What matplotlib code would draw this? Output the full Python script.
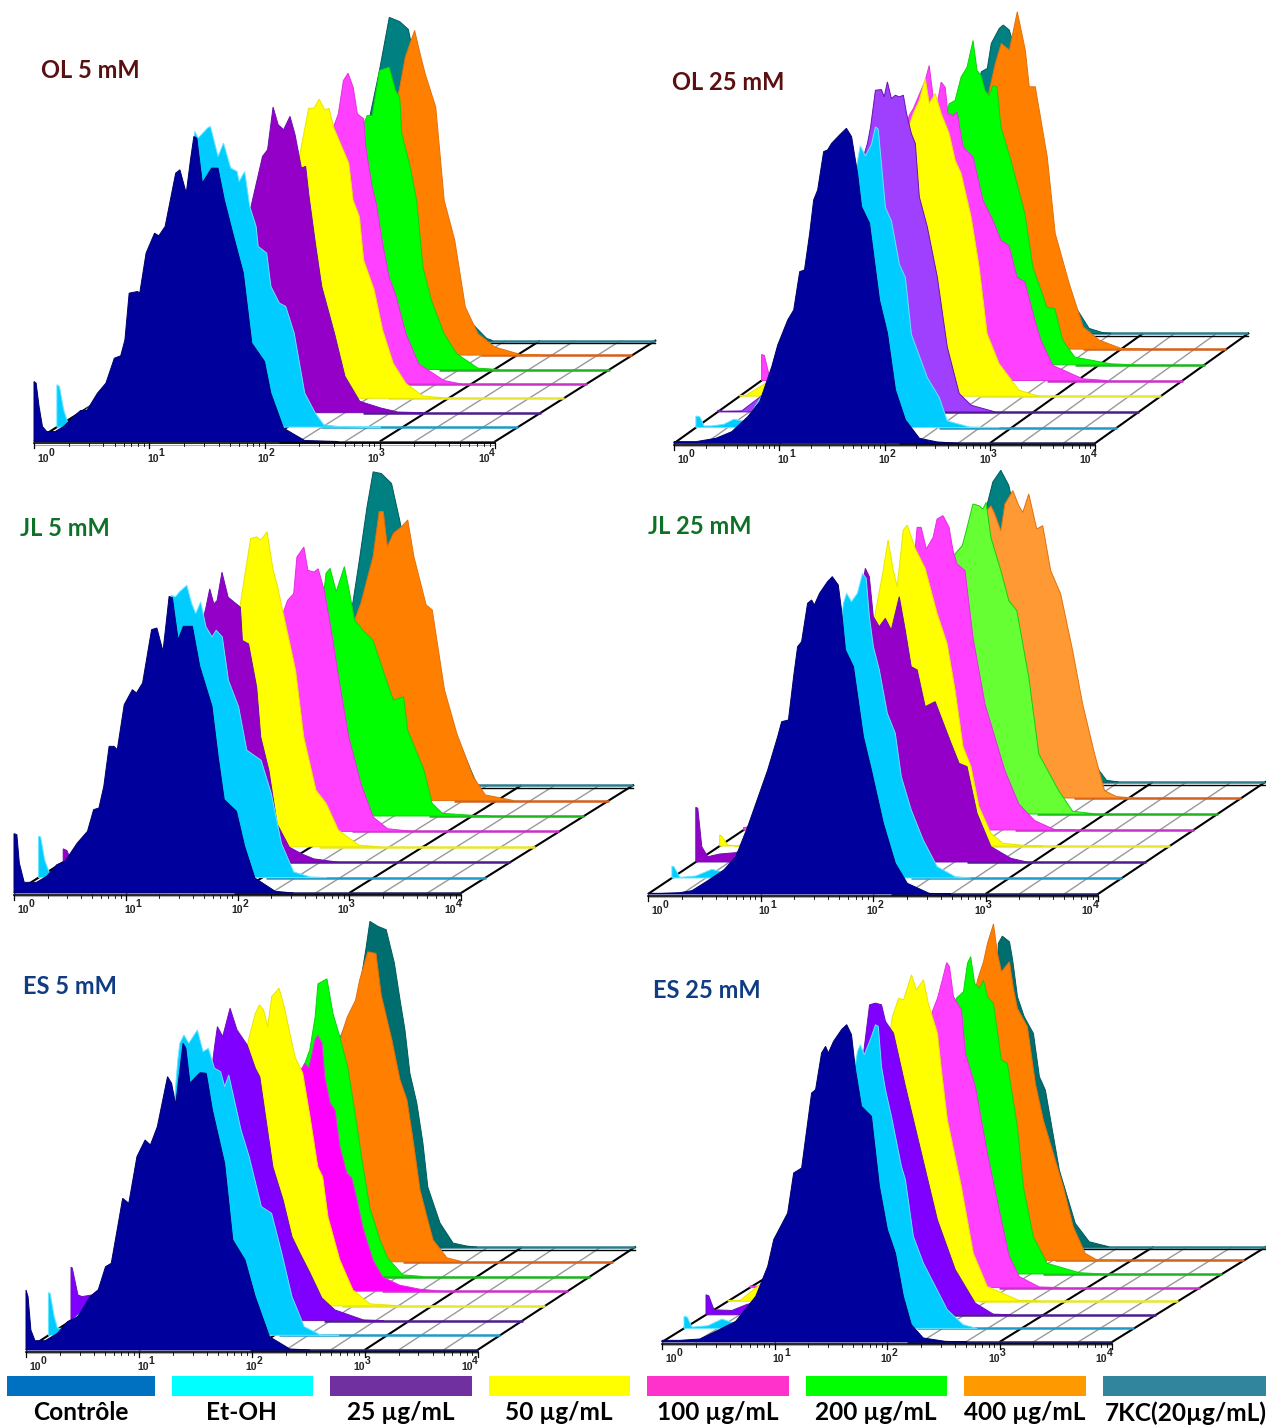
#!/usr/bin/env python3
"""Six stacked flow cytometry overlays (OL, JL, ES at 5 and 25 mM) with a colour key."""

import matplotlib
matplotlib.use("Agg")
import matplotlib.pyplot as plt
import numpy as np

SERIES = ["Contrôle", "Et-OH", "25 µg/mL", "50 µg/mL", "100 µg/mL",
          "200 µg/mL", "400 µg/mL", "7KC(20µg/mL)"]
KEY_COLORS = ["#0070C0", "#00FFFF", "#7030A0", "#FFFF00", "#FF33CC",
              "#00FF00", "#FF9900", "#31859C"]

# histograms: channel from the left of the axis, counts above the baseline
OL5_CH = [
    [0, 5, 12, 20, 30, 50, 70, 90, 110, 125, 150, 170, 190, 205, 215, 225, 245, 250, 265, 285, 295, 310, 335, 345, 360, 370, 378, 385, 398, 410, 420, 435, 450, 470, 495, 515, 545, 560, 590, 640, 720],
    [0, 6, 16, 26, 36, 166, 306, 326, 334, 356, 363, 381, 394, 411, 426, 431, 444, 456, 471, 476, 496, 506, 526, 541, 561, 586, 611, 631, 666, 766],
    [0, 212, 392, 404, 432, 444, 457, 469, 482, 497, 509, 524, 534, 542, 557, 572, 602, 627, 662, 712, 752, 812],
    [0, 257, 457, 465, 487, 499, 512, 525, 535, 547, 582, 592, 607, 617, 642, 662, 687, 717, 757, 817],
    [0, 253, 483, 493, 503, 515, 526, 538, 548, 563, 568, 583, 593, 608, 623, 638, 663, 693, 753, 793],
    [0, 249, 504, 509, 517, 529, 546, 569, 584, 594, 599, 619, 634, 649, 669, 699, 729, 779, 829],
    [0, 295, 535, 540, 553, 575, 590, 600, 625, 645, 670, 695, 725, 765, 825, 875],
    [0, 341, 438, 461, 486, 506, 513, 541, 641, 691, 706],
]
OL5_COUNT = [
    [180, 175, 105, 45, 30, 30, 45, 70, 93, 93, 145, 175, 250, 257, 305, 445, 450, 445, 565, 625, 617, 645, 805, 815, 745, 845, 915, 910, 775, 800, 820, 820, 725, 625, 505, 295, 240, 145, 40, 3, 0],
    [127, 122, 52, 12, 7, 182, 682, 887, 867, 897, 902, 812, 852, 777, 767, 737, 767, 662, 602, 542, 522, 422, 372, 362, 282, 102, 42, 7, 2, 0],
    [0, 139, 539, 614, 769, 789, 917, 864, 849, 889, 834, 734, 739, 649, 509, 379, 239, 109, 34, 14, 2, 0],
    [0, 195, 675, 725, 870, 870, 897, 865, 870, 810, 705, 595, 545, 415, 325, 205, 105, 45, 7, 0],
    [0, 200, 730, 775, 810, 910, 932, 890, 810, 795, 710, 590, 540, 420, 320, 270, 150, 60, 10, 0],
    [0, 157, 687, 737, 762, 762, 897, 907, 837, 817, 707, 607, 507, 307, 207, 107, 47, 4, 0],
    [0, 264, 774, 804, 894, 974, 894, 844, 744, 464, 344, 144, 64, 24, 2, 0],
    [0, 222, 812, 970, 957, 934, 892, 422, 72, 7, 0],
]

OL25_CH = [
    [0, 55, 105, 145, 185, 215, 245, 260, 285, 300, 315, 327, 340, 350, 360, 375, 385, 395, 415, 432, 445, 460, 470, 490, 515, 535, 555, 580, 615, 660, 715],
    [0, 10, 20, 40, 70, 95, 125, 260, 395, 405, 412, 425, 440, 450, 457, 465, 475, 490, 510, 525, 540, 580, 610, 630, 685, 760],
    [0, 15, 60, 205, 375, 383, 395, 410, 417, 425, 435, 445, 455, 465, 473, 485, 495, 505, 525, 550, 575, 605, 635, 695],
    [0, 15, 200, 415, 425, 435, 450, 465, 475, 490, 505, 525, 540, 555, 580, 600, 620, 650, 700, 750],
    [0, 7, 20, 40, 195, 355, 370, 380, 410, 420, 430, 440, 450, 460, 467, 480, 490, 505, 530, 555, 580, 600, 620, 640, 660, 685, 700, 730, 805, 865],
    [0, 190, 410, 415, 430, 445, 460, 475, 485, 495, 505, 515, 525, 535, 545, 570, 605, 625, 660, 680, 700, 730, 820, 880],
    [0, 236, 456, 461, 476, 491, 511, 531, 551, 561, 576, 606, 626, 661, 696, 736, 791, 846],
    [0, 181, 381, 386, 401, 411, 431, 441, 456, 466, 511, 611, 656, 691, 711],
]
OL25_COUNT = [
    [5, 5, 15, 35, 80, 125, 230, 295, 370, 400, 515, 520, 630, 730, 760, 875, 880, 900, 925, 945, 920, 810, 710, 660, 430, 330, 160, 70, 15, 4, 0],
    [35, 32, 5, 5, 10, 25, 18, 280, 730, 800, 845, 815, 850, 902, 895, 790, 660, 620, 490, 450, 280, 150, 90, 20, 2, 0],
    [5, 2, 3, 135, 805, 855, 965, 967, 945, 990, 940, 950, 945, 950, 895, 835, 805, 645, 555, 405, 195, 55, 20, 0],
    [3, 2, 138, 768, 813, 848, 888, 953, 878, 908, 848, 788, 708, 668, 538, 388, 188, 98, 18, 0],
    [78, 75, 10, 2, 140, 720, 795, 815, 900, 945, 850, 830, 895, 880, 800, 795, 805, 700, 670, 540, 480, 420, 405, 310, 295, 180, 120, 45, 5, 0],
    [0, 143, 753, 783, 793, 863, 893, 973, 883, 868, 823, 808, 838, 833, 713, 613, 453, 293, 173, 168, 73, 23, 3, 0],
    [0, 247, 747, 777, 857, 917, 897, 1012, 897, 787, 787, 577, 347, 197, 67, 27, 2, 0],
    [0, 300, 760, 785, 795, 870, 915, 925, 910, 870, 500, 100, 15, 2, 0],
]

JL5_CH = [
    [0, 7, 13, 25, 55, 80, 105, 125, 155, 180, 195, 208, 220, 233, 245, 253, 270, 290, 300, 315, 337, 350, 365, 380, 388, 402, 415, 437, 455, 485, 500, 515, 545, 565, 590, 640, 685],
    [0, 5, 15, 27, 45, 255, 315, 325, 335, 345, 363, 375, 385, 397, 410, 425, 435, 450, 465, 490, 510, 545, 570, 595, 625, 665, 705],
    [0, 9, 19, 35, 244, 339, 349, 359, 369, 377, 389, 404, 429, 434, 439, 454, 474, 484, 504, 524, 554, 584, 614, 674],
    [0, 184, 369, 374, 384, 399, 414, 424, 439, 454, 464, 479, 509, 529, 559, 584, 614, 664, 714],
    [0, 224, 414, 419, 429, 444, 452, 469, 479, 494, 504, 519, 539, 554, 579, 609, 639, 674, 734],
    [0, 213, 453, 463, 473, 488, 508, 518, 533, 553, 578, 608, 628, 653, 663, 703, 723, 748, 823, 863],
    [0, 253, 473, 488, 518, 533, 543, 553, 568, 588, 603, 618, 648, 663, 693, 723, 763, 793, 863],
    [0, 243, 408, 423, 443, 458, 478, 503, 523, 563, 663, 713],
]
JL5_COUNT = [
    [178, 175, 90, 32, 32, 50, 85, 95, 150, 185, 250, 255, 320, 440, 440, 430, 565, 610, 600, 630, 790, 795, 725, 890, 885, 760, 800, 800, 680, 560, 410, 280, 245, 140, 45, 5, 0],
    [124, 122, 52, 12, 7, 322, 722, 847, 842, 857, 877, 822, 792, 827, 752, 722, 742, 722, 592, 512, 382, 352, 252, 102, 17, 2, 0],
    [40, 35, 5, 2, 175, 715, 760, 820, 775, 785, 870, 795, 770, 765, 665, 655, 525, 375, 275, 115, 45, 25, 10, 0],
    [0, 130, 700, 730, 810, 925, 930, 920, 945, 830, 785, 700, 530, 330, 170, 130, 50, 5, 0],
    [0, 133, 633, 658, 693, 713, 823, 853, 783, 778, 788, 723, 583, 463, 283, 143, 43, 8, 0],
    [0, 138, 618, 728, 743, 673, 748, 688, 588, 558, 528, 418, 348, 358, 258, 138, 38, 8, 2, 0],
    [0, 192, 542, 592, 732, 867, 867, 762, 802, 822, 842, 732, 587, 572, 332, 202, 72, 17, 0],
    [0, 245, 545, 665, 835, 940, 935, 905, 795, 545, 145, 0],
]

JL25_CH = [
    [0, 30, 80, 110, 150, 190, 220, 250, 275, 300, 325, 335, 352, 365, 375, 385, 400, 410, 417, 430, 450, 462, 477, 485, 495, 515, 540, 560, 590, 620, 650, 705, 760],
    [0, 5, 20, 60, 100, 125, 320, 425, 430, 438, 450, 465, 478, 487, 495, 505, 520, 540, 560, 575, 600, 630, 665, 710, 750],
    [0, 5, 15, 30, 60, 100, 120, 260, 410, 425, 435, 445, 460, 475, 490, 510, 525, 540, 555, 575, 600, 640, 660, 680, 705, 740, 790, 830],
    [0, 5, 20, 45, 200, 385, 390, 410, 422, 435, 445, 460, 470, 490, 515, 545, 570, 590, 610, 630, 650, 680, 710, 770, 810],
    [0, 15, 240, 425, 430, 435, 445, 458, 475, 485, 500, 515, 525, 535, 555, 575, 605, 655, 690, 730, 780, 830],
    [0, 230, 465, 470, 488, 495, 515, 530, 540, 548, 560, 585, 605, 625, 655, 680, 730, 765, 825],
    [0, 270, 485, 490, 500, 510, 525, 535, 555, 570, 580, 595, 615, 630, 650, 675, 705, 730, 760, 785, 815, 860],
    [0, 210, 425, 445, 465, 485, 495, 560, 680, 730, 760],
]
JL25_COUNT = [
    [2, 2, 4, 10, 40, 72, 112, 202, 287, 372, 472, 517, 522, 652, 742, 757, 872, 882, 867, 902, 937, 952, 927, 852, 732, 682, 472, 372, 212, 92, 32, 2, 0],
    [36, 34, 2, 6, 26, 19, 224, 774, 824, 854, 829, 854, 914, 899, 784, 694, 624, 494, 434, 304, 204, 114, 34, 4, 0],
    [164, 161, 46, 16, 24, 28, 36, 176, 776, 881, 856, 736, 706, 731, 696, 796, 696, 586, 576, 466, 481, 356, 296, 286, 146, 46, 11, 0],
    [33, 30, 3, 0, 78, 658, 698, 828, 918, 828, 778, 948, 963, 893, 833, 698, 608, 468, 298, 238, 118, 38, 8, 1, 0],
    [8, 6, 128, 818, 843, 908, 908, 843, 878, 933, 943, 908, 838, 798, 778, 578, 378, 178, 78, 28, 1, 0],
    [0, 130, 750, 780, 805, 835, 930, 925, 915, 935, 830, 730, 640, 610, 410, 180, 70, 8, 0],
    [0, 182, 802, 862, 877, 852, 802, 882, 922, 877, 857, 912, 807, 817, 682, 612, 442, 282, 132, 22, 4, 0],
    [0, 235, 805, 900, 935, 890, 835, 535, 85, 5, 0],
]

ES5_CH = [
    [0, 5, 12, 22, 47, 77, 102, 127, 157, 177, 195, 209, 222, 237, 252, 272, 292, 305, 322, 347, 357, 367, 385, 392, 402, 417, 427, 442, 457, 487, 507, 537, 562, 597, 647, 697],
    [0, 4, 14, 22, 37, 282, 317, 322, 332, 344, 365, 379, 392, 407, 422, 432, 442, 452, 472, 492, 522, 547, 572, 597, 627, 667, 712],
    [0, 3, 17, 27, 52, 62, 227, 347, 352, 359, 372, 390, 407, 432, 452, 463, 495, 520, 542, 561, 586, 615, 647, 717, 767],
    [0, 222, 377, 382, 397, 407, 417, 427, 437, 455, 467, 494, 513, 531, 550, 562, 575, 604, 636, 678, 757],
    [0, 5, 20, 217, 407, 417, 426, 444, 456, 463, 473, 488, 495, 505, 512, 525, 537, 549, 566, 578, 591, 605, 630, 654, 696, 745, 800],
    [0, 212, 408, 420, 433, 440, 462, 477, 494, 513, 531, 548, 567, 592, 611, 648, 697],
    [0, 257, 437, 442, 457, 477, 487, 507, 527, 540, 566, 586, 603, 618, 635, 652, 667, 701, 740],
    [0, 252, 427, 447, 457, 477, 497, 517, 531, 543, 555, 572, 587, 599, 629, 661, 695, 720],
]
ES5_COUNT = [
    [180, 160, 60, 28, 28, 50, 85, 100, 160, 180, 250, 260, 350, 455, 440, 580, 630, 615, 670, 820, 800, 735, 920, 905, 800, 820, 832, 830, 720, 560, 330, 270, 160, 40, 3, 0],
    [128, 126, 56, 21, 21, 296, 826, 876, 901, 876, 916, 851, 861, 801, 791, 746, 781, 726, 616, 536, 386, 366, 246, 116, 26, 1, 0],
    [160, 158, 77, 72, 77, 87, 252, 772, 822, 882, 852, 937, 872, 827, 757, 731, 461, 362, 251, 203, 143, 68, 32, 2, 0],
    [0, 208, 778, 808, 878, 903, 888, 838, 928, 953, 900, 747, 699, 567, 417, 387, 267, 138, 48, 6, 0],
    [142, 130, 60, 212, 762, 822, 732, 663, 669, 684, 669, 753, 768, 744, 642, 564, 543, 432, 354, 339, 273, 192, 93, 42, 18, 6, 0],
    [0, 168, 640, 680, 778, 878, 893, 788, 718, 628, 490, 350, 208, 110, 55, 5, 0],
    [0, 275, 645, 680, 735, 785, 845, 930, 925, 800, 666, 546, 486, 366, 216, 135, 66, 12, 0],
    [0, 282, 742, 892, 977, 962, 952, 852, 741, 651, 522, 432, 312, 180, 72, 12, 3, 0],
]

ES25_CH = [
    [0, 45, 95, 135, 185, 235, 265, 280, 315, 330, 350, 365, 375, 385, 400, 410, 417, 430, 450, 463, 475, 485, 500, 525, 545, 565, 585, 605, 625, 655, 710, 765],
    [0, 8, 20, 60, 95, 125, 290, 430, 435, 442, 452, 470, 480, 487, 495, 505, 520, 545, 555, 575, 600, 630, 660, 700, 735],
    [0, 7, 20, 65, 100, 120, 235, 390, 395, 410, 425, 440, 450, 470, 485, 500, 540, 580, 625, 675, 720, 765],
    [0, 30, 230, 408, 412, 428, 440, 460, 472, 490, 502, 525, 535, 550, 585, 615, 650, 730, 780],
    [0, 25, 225, 450, 457, 470, 480, 493, 500, 510, 530, 540, 565, 595, 630, 650, 675, 725, 775],
    [0, 220, 458, 462, 480, 490, 498, 508, 520, 530, 540, 555, 575, 590, 615, 630, 655, 690, 770, 830],
    [0, 265, 455, 460, 475, 485, 500, 510, 520, 540, 550, 560, 585, 605, 625, 650, 675, 700, 730, 760, 805],
    [0, 260, 455, 457, 467, 485, 493, 505, 522, 545, 560, 575, 610, 650, 685, 735],
]
ES25_COUNT = [
    [5, 5, 9, 32, 62, 137, 227, 307, 387, 507, 522, 657, 747, 757, 867, 887, 867, 902, 937, 952, 922, 817, 707, 677, 467, 337, 267, 137, 52, 12, 2, 0],
    [36, 34, 4, 8, 28, 16, 226, 796, 831, 851, 821, 876, 911, 906, 786, 716, 636, 486, 446, 276, 196, 126, 56, 11, 0],
    [60, 57, 15, 13, 30, 37, 185, 755, 785, 930, 935, 930, 880, 845, 765, 685, 485, 285, 135, 35, 2, 0],
    [3, 2, 194, 824, 854, 909, 904, 979, 934, 964, 894, 804, 694, 544, 344, 144, 44, 2, 0],
    [5, 4, 153, 793, 828, 868, 913, 975, 963, 873, 833, 703, 603, 403, 203, 93, 33, 2, 0],
    [0, 162, 802, 827, 847, 932, 952, 872, 857, 882, 832, 812, 642, 632, 442, 262, 112, 32, 4, 0],
    [0, 271, 811, 841, 896, 951, 1009, 921, 866, 896, 816, 756, 701, 531, 421, 321, 221, 101, 21, 1, 0],
    [0, 280, 850, 910, 932, 915, 860, 750, 690, 640, 510, 470, 230, 70, 15, 0],
]

NAVY, CYAN, YEL = "#00009C", "#00CCFF", "#FFFF00"
PANELS = [
    dict(title="OL 5 mM", title_xy=(41, 70), title_color="#5A1010", ch=OL5_CH, count=OL5_COUNT,
         x0=34, y0=441.5, x1=495, dx=22.9, dy=14.4, full=1090,
         fills=[NAVY, CYAN, "#9400C8", YEL, "#FF40FF", "#00FF00", "#FF8000", "#008080"]),
    dict(title="OL 25 mM", title_xy=(672, 82), title_color="#5A1010", ch=OL25_CH, count=OL25_COUNT,
         x0=674, y0=443.3, x1=1095, dx=21.9, dy=15.7, full=1055,
         fills=[NAVY, CYAN, "#A040FF", YEL, "#FF40FF", "#00FF00", "#FF8000", "#008080"]),
    dict(title="JL 5 mM", title_xy=(20, 529), title_color="#0F7028", ch=JL5_CH, count=JL5_COUNT,
         x0=14, y0=893, x1=461, dx=24.6, dy=15.4, full=1095,
         fills=[NAVY, CYAN, "#9400C8", YEL, "#FF40FF", "#00FF00", "#FF8000", "#008080"]),
    dict(title="JL 25 mM", title_xy=(648, 527), title_color="#0F7028", ch=JL25_CH, count=JL25_COUNT,
         x0=648, y0=894, x1=1098, dx=23.9, dy=16, full=1128,
         fills=[NAVY, CYAN, "#9400C8", YEL, "#FF40FF", "#66FF33", "#FF9933", "#008080"]),
    dict(title="ES 5 mM", title_xy=(23, 986), title_color="#0F3C82", ch=ES5_CH, count=ES5_COUNT,
         x0=26, y0=1350, x1=477.5, dx=22.5, dy=14.7, full=1107,
         fills=[NAVY, CYAN, "#8000FF", YEL, "#FF00FF", "#00FF00", "#FF8000", "#006E6E"]),
    dict(title="ES 25 mM", title_xy=(653, 991), title_color="#0F3C82", ch=ES25_CH, count=ES25_COUNT,
         x0=662, y0=1342, x1=1112, dx=22, dy=13.6, full=1128,
         fills=[NAVY, CYAN, "#8000FF", YEL, "#FF40FF", "#00FF00", "#FF8000", "#006E6E"]),
]
BASE_COLORS = ["#20205C", "#1E9BC8", "#4B1E8C", "#E6E632", "#C832C8", "#1EB41E", "#D2601E", "#2E7D8C"]
EDGE_COLORS = ["#000070", "#66E6FF", "#6A10B0", "#E6E600", "#E030E0", "#10D010", "#E07010", "#005A5A"]
KEY_SPANS = [(7, 155), (172, 313), (330, 472), (489, 630), (647, 789), (806, 947), (964, 1086), (1103, 1266)]
KEY_TEXT_X = [81, 241, 401, 559, 718, 876, 1025, 1186]

plt.rcParams["font.family"] = ["Lato", "DejaVu Sans"]
fig = plt.figure(figsize=(12.66, 14.27), dpi=100)
ax = fig.add_axes([0, 0, 1, 1])
ax.set_xlim(0, 1266)
ax.set_ylim(1427, 0)
ax.axis("off")


def draw_panel(p):
    dec_w = (p["x1"] - p["x0"]) / 4
    scale = (p["x1"] - p["x0"]) / p["full"]

    # floor grid first, the curves cover it
    for dec in range(4):
        for mult, color, lw in ((1, "black", 1.5), (2, "#999999", 1.0), (5, "#999999", 1.0)):
            pos = p["x0"] + (dec + np.log10(mult)) * dec_w
            ax.plot([pos, pos + 7 * p["dx"]], [p["y0"], p["y0"] - 7 * p["dy"]],
                    color=color, lw=lw, zorder=1, solid_capstyle="butt")
    ax.plot([p["x1"], p["x1"] + 7 * p["dx"]], [p["y0"], p["y0"] - 7 * p["dy"]],
            color="black", lw=1.5, zorder=1)
    ax.plot([p["x0"] + 7 * p["dx"] + 90, p["x1"] + 7 * p["dx"]],
            [p["y0"] - 7 * p["dy"] + 2.5] * 2, color="black", lw=1.0, zorder=1)

    for depth in range(7, -1, -1):
        ch = np.array(p["ch"][depth], dtype=float)
        count = np.array(p["count"][depth], dtype=float)
        xs = p["x0"] + depth * p["dx"] + ch * scale
        base = p["y0"] - depth * p["dy"]
        ys = base - count / 3
        zo = 10 + (7 - depth) * 2
        ax.fill(np.r_[xs[0], xs, xs[-1]], np.r_[base, ys, base], facecolor=p["fills"][depth],
                edgecolor=EDGE_COLORS[depth], lw=0.7, zorder=zo)
        end = p["x1"] + depth * p["dx"]
        ax.plot([xs[-1] - 60, end], [base, base], color=BASE_COLORS[depth], lw=1.8,
                zorder=zo - 1, solid_capstyle="butt")

    # front axis with log ticks
    y_axis = p["y0"] + 1.5
    ax.plot([p["x0"], p["x1"]], [y_axis, y_axis], color="black", lw=1.2, zorder=40)
    ax.plot([p["x0"], p["x1"]], [y_axis + 1.5, y_axis + 1.5], color="#AAAAAA", lw=0.8, zorder=39)
    for dec in range(5):
        pos = p["x0"] + dec * dec_w
        ax.plot([pos, pos], [y_axis, y_axis + 5], color="black", lw=0.9, zorder=40)
        if dec < 4:
            for mult in range(2, 10):
                minor = pos + np.log10(mult) * dec_w
                ax.plot([minor, minor], [y_axis, y_axis + 3], color="black", lw=0.6, zorder=40)
        label_x = p["x0"] + 9 + dec * (dec_w * 0.956)
        ax.text(label_x, p["y0"] + 17, "10", fontsize=7.5, fontweight="bold", ha="center", va="center",
                family="Liberation Sans", color="#222222", zorder=41)
        ax.text(label_x + 8.5, p["y0"] + 11, str(dec), fontsize=7.5, fontweight="bold", ha="center", va="center",
                family="Liberation Sans", color="#222222", zorder=41)

    ax.text(p["title_xy"][0], p["title_xy"][1], p["title"], fontsize=17, fontweight="bold",
            color=p["title_color"], ha="left", va="center", zorder=50)


for panel in PANELS:
    draw_panel(panel)

for name, color, (left, right), tx in zip(SERIES, KEY_COLORS, KEY_SPANS, KEY_TEXT_X):
    ax.fill([left, right, right, left], [1376, 1376, 1396, 1396], color=color, lw=0, zorder=60)
    ax.text(tx, 1413, name, fontsize=17.6, fontweight="bold", color="black",
            ha="center", va="center", zorder=60)

fig.savefig("out.png", dpi=100)
plt.close(fig)
